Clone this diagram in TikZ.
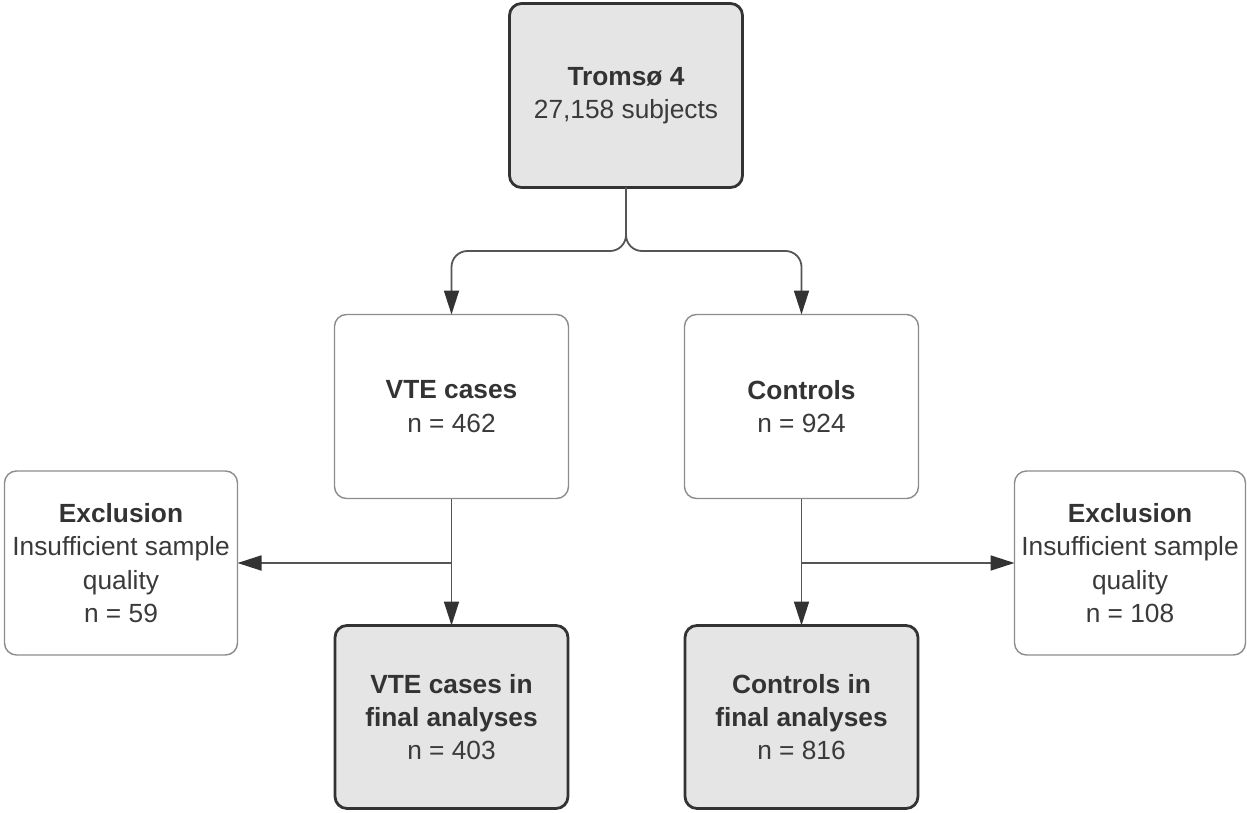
\documentclass[tikz,border=0pt]{standalone}
\usepackage{fontspec}
\setmainfont{Liberation Sans}
\usetikzlibrary{arrows.meta}
\definecolor{boxfill}{HTML}{E5E5E5}
\definecolor{darkline}{HTML}{333333}
\definecolor{thinline}{HTML}{8C8C8C}
\definecolor{connline}{HTML}{555555}
\definecolor{tipcol}{HTML}{333333}
\definecolor{txt}{HTML}{333333}
\definecolor{txtn}{HTML}{3A3A3A}
\tikzset{
  base/.style={rectangle, rounded corners=12pt, inner sep=0pt, outer sep=0pt,
    align=center, text=txtn, font=\fontsize{26.3}{33.3}\selectfont},
  mainbox/.style={base, draw=darkline, line width=2.8pt, fill=boxfill},
  plainbox/.style={base, draw=thinline, line width=1.4pt, fill=white},
  conn/.style={draw=connline, line width=1.8pt, -{Triangle[width=15pt,length=24pt,color=tipcol]}},
}
\newcommand{\hd}[1]{{\bfseries\color{txt}#1}}
\begin{document}
\begin{tikzpicture}[x=1pt,y=-1pt]
\useasboundingbox (0,0) rectangle (1247,813);
\node[mainbox, minimum width=233pt, minimum height=184pt] (top) at (626,95.5) {\hd{Tromsø 4}\\27,158 subjects};
\node[plainbox, minimum width=234pt, minimum height=184pt] (vte) at (451.5,406.5) {\hd{VTE cases}\\n = 462};
\node[plainbox, minimum width=234pt, minimum height=184pt] (ctrl) at (801.5,406.5) {\hd{Controls}\\n = 924};
\node[plainbox, minimum width=233pt, minimum height=184pt] (exl) at (121,563) {\hd{Exclusion}\\Insufficient sample\\quality\\n = 59};
\node[plainbox, minimum width=231pt, minimum height=184pt] (exr) at (1130,563) {\hd{Exclusion}\\Insufficient sample\\quality\\n = 108};
\node[mainbox, minimum width=233pt, minimum height=183pt] (vtef) at (451.5,717) {\hd{VTE cases in}\\\hd{final analyses}\\n = 403};
\node[mainbox, minimum width=233pt, minimum height=183pt] (ctrlf) at (801.5,717) {\hd{Controls in}\\\hd{final analyses}\\n = 816};
\coordinate (split) at (626,251);
\draw[conn, rounded corners=16pt] (top.south) -- (split) -| (vte.north);
\draw[conn, rounded corners=16pt] (top.south) -- (split) -| (ctrl.north);
\draw[conn] (vte.south) -- (vtef.north);
\draw[conn] (ctrl.south) -- (ctrlf.north);
\coordinate (bl) at (vte.south |- exl.east);
\coordinate (br) at (ctrl.south |- exr.west);
\draw[conn] (bl) -- (exl.east);
\draw[conn] (br) -- (exr.west);
\end{tikzpicture}
\end{document}
